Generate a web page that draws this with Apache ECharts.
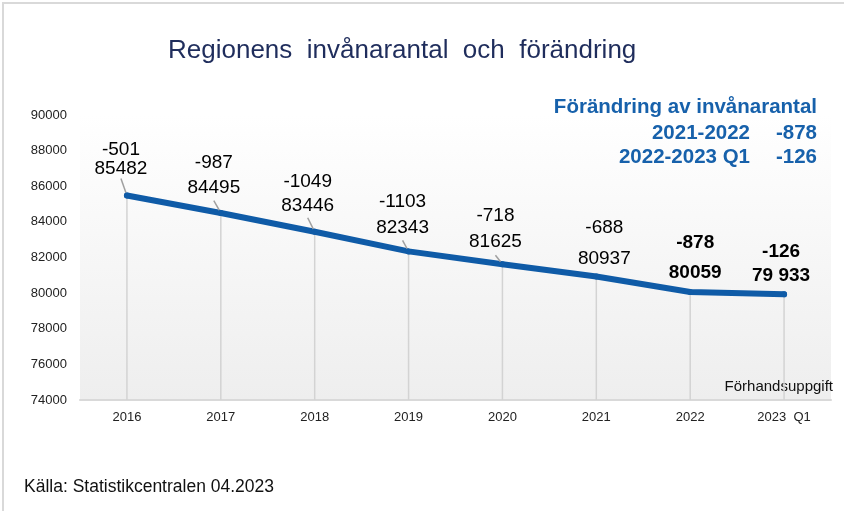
<!DOCTYPE html>
<html>
<head>
<meta charset="utf-8">
<script src="https://cdn.jsdelivr.net/npm/echarts@6/dist/echarts.min.js"></script>
<style>
  html, body { margin: 0; padding: 0; background: #fff; }
  #chart { width: 844px; height: 511px; }
</style>
</head>
<body>
<div id="chart"></div>
<script>
// årtal och invånarantal (2023 Q1 = förhandsuppgift)
var years = ['2016', '2017', '2018', '2019', '2020', '2021', '2022', '2023  Q1']
var population = [85482, 84495, 83446, 82343, 81625, 80937, 80059, 79933]
var change = [-501, -987, -1049, -1103, -718, -688, -878, -126]
var yMin = 74000
var yMax = 90000
var yStep = 2000
var summaryRows = [['2021-2022', '-878'], ['2022-2023 Q1', '-126']]

// placering av etiketterna (flyttade lite som i originalet)
var labelDx = [-6, -7, -7, -6, -7, 8, 5, -3]
var labelGap = [17.5, 16, 17, 15, 13, 9, 10, 10]
var labelLH = [19, 25, 24, 26, 26, 31, 30, 24]

var font = '"Liberation Sans", Arial, sans-serif'
var blue = '#0f5ba7'
var noteBlue = '#1761ab'

function fmtValue (v, i) {
  if (i === population.length - 1) {
    return String(v).replace(/(\d+)(\d{3})$/, '$1 $2')
  }
  return String(v)
}

var chart = echarts.init(document.getElementById('chart'))

var option = {
  backgroundColor: '#ffffff',
  animation: false,
  title: {
    text: 'Regionens  invånarantal  och  förändring',
    left: 163,
    top: 33,
    textStyle: { fontFamily: font, fontSize: 26, fontWeight: 'normal', color: '#1f2d5c' }
  },
  grid: {
    left: 80,
    right: 13,
    top: 115,
    bottom: 111,
    show: true,
    borderWidth: 0,
    backgroundColor: new echarts.graphic.LinearGradient(0, 0, 0, 1, [
      { offset: 0, color: '#ffffff' },
      { offset: 1, color: '#eeeeee' }
    ])
  },
  xAxis: {
    type: 'category',
    data: years,
    boundaryGap: true,
    axisLine: { lineStyle: { color: '#d9d9d9', width: 2 } },
    axisTick: { show: false },
    axisLabel: { fontFamily: font, fontSize: 13, color: '#222', margin: 11 }
  },
  yAxis: {
    type: 'value',
    min: yMin,
    max: yMax,
    interval: yStep,
    axisLine: { show: false },
    axisTick: { show: false },
    splitLine: { show: false },
    axisLabel: {
      fontFamily: font,
      fontSize: 13,
      color: '#222',
      margin: 13,
      formatter: function (v) { return String(v) }
    }
  },
  series: [
    {
      // lodräta hjälplinjer
      name: 'drop',
      type: 'bar',
      barWidth: 1.5,
      silent: true,
      z: 1,
      itemStyle: { color: '#d3d3d3' },
      data: population
    },
    {
      name: 'Invånarantal',
      type: 'line',
      z: 3,
      symbol: 'circle',
      symbolSize: 6,
      showSymbol: true,
      itemStyle: { color: blue },
      lineStyle: { color: blue, width: 6, cap: 'round', join: 'round' },
      label: {
        show: true,
        position: 'top',
        distance: 0,
        fontFamily: font,
        fontSize: 19,
        color: '#000',
        formatter: function (p) {
          return change[p.dataIndex] + '\n' + fmtValue(p.value, p.dataIndex)
        }
      },
      labelLine: { show: true, lineStyle: { color: '#a0a0a0', width: 1.5 } },
      labelLayout: function (p) {
        var i = p.dataIndex
        return { dx: labelDx[i], dy: -labelGap[i] + labelLH[i] / 2 - 6 }
      },
      data: population.map(function (v, i) {
        return {
          value: v,
          label: { lineHeight: labelLH[i], fontWeight: i >= 6 ? 'bold' : 'normal' },
          labelLine: { show: i < 5 }
        }
      })
    }
  ],
  graphic: [
    {
      type: 'rect',
      silent: true,
      shape: { x: 3, y: 3, width: 900, height: 600 },
      style: { fill: 'none', stroke: '#d9d9d9', lineWidth: 2 }
    },
    {
      type: 'text',
      x: 817,
      y: 107,
      style: { text: 'Förändring av invånarantal', align: 'right', verticalAlign: 'middle', font: 'bold 20.5px ' + font, fill: noteBlue }
    },
    {
      type: 'text',
      x: 750,
      y: 133,
      style: { text: summaryRows[0][0], align: 'right', verticalAlign: 'middle', font: 'bold 20.5px ' + font, fill: noteBlue }
    },
    {
      type: 'text',
      x: 817,
      y: 133,
      style: { text: summaryRows[0][1], align: 'right', verticalAlign: 'middle', font: 'bold 20.5px ' + font, fill: noteBlue }
    },
    {
      type: 'text',
      x: 750,
      y: 157,
      style: { text: summaryRows[1][0], align: 'right', verticalAlign: 'middle', font: 'bold 20.5px ' + font, fill: noteBlue }
    },
    {
      type: 'text',
      x: 817,
      y: 157,
      style: { text: summaryRows[1][1], align: 'right', verticalAlign: 'middle', font: 'bold 20.5px ' + font, fill: noteBlue }
    },
    {
      type: 'text',
      x: 833,
      y: 387,
      style: { text: 'Förhandsuppgift', align: 'right', verticalAlign: 'middle', font: '15px ' + font, fill: '#111' }
    },
    {
      type: 'text',
      x: 24,
      y: 487,
      style: { text: 'Källa: Statistikcentralen 04.2023', align: 'left', verticalAlign: 'middle', font: '17.5px ' + font, fill: '#111' }
    }
  ]
}

chart.setOption(option)
</script>
</body>
</html>
